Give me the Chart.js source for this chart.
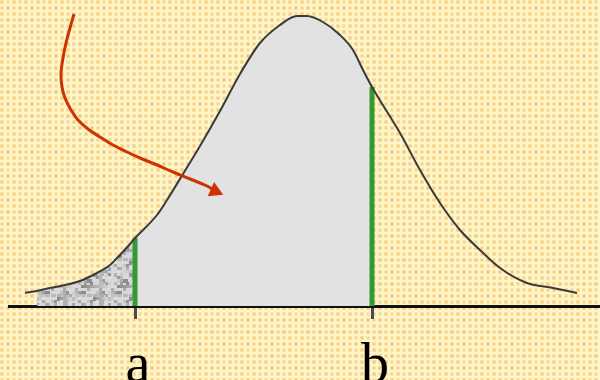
<!DOCTYPE html>
<html lang="en">
<head>
  <meta charset="UTF-8" />
  <title>Area between a and b</title>
  <script src="https://cdn.jsdelivr.net/npm/chart.js"></script>
  <style>
    html, body { margin: 0; padding: 0; background: #fcefc0; }
    #wrap { width: 600px; height: 380px; }
    canvas { display: block; }
  </style>
</head>
<body>
  <div id="wrap"><canvas id="curveChart" width="600" height="380"></canvas></div>

  <script>
    // curve of the distribution (x along the axis, height above the axis)
    const curveX = [25, 37, 50, 65, 80, 95, 110, 117, 130, 135, 140, 157, 167, 183, 200, 220, 240, 260, 280, 297, 307, 323, 340, 353, 363, 372, 400, 420, 440, 460, 480, 500, 527, 553, 577];
    const curveY = [13, 15, 18, 21, 25, 32, 41, 48, 62, 68, 73, 91, 106, 132, 160, 195, 232, 263, 281, 290, 290, 284, 271, 256, 236, 219, 173, 136, 103, 76, 56, 38, 23, 18, 13];

    // bounds a and b, and where the shaded left tail begins
    const tickValues = [135, 372];
    const tickLabels = ['a', 'b'];
    const tailStart = 37;

    // red arrow path (last point carries the arrow head)
    const arrowX = [74, 70, 66, 63, 61, 62, 65, 71, 78, 88, 100, 113, 127, 140, 157, 173, 190, 207, 215];
    const arrowY = [292, 278, 263, 248, 233, 219, 208, 196, 186, 177, 169, 161, 154, 148, 141, 134, 127, 120, 115];

    const curve = curveX.map((x, i) => ({ x, y: curveY[i] }));
    const between = (lo, hi) => curve.filter(p => p.x >= lo && p.x <= hi);
    const heightAt = x => curve.find(p => p.x === x).y;
    const [aX, bX] = tickValues;

    // yellow textured background tile
    const makeBgPattern = ctx => {
      const c = document.createElement('canvas');
      c.width = 12; c.height = 12;
      const g = c.getContext('2d');
      g.fillStyle = '#fdf5cc';
      g.fillRect(0, 0, 12, 12);
      const blob = (x, y, core, ring) => {
        g.fillStyle = ring; g.fillRect(x - 1, y - 1, 4, 4);
        g.fillStyle = core; g.fillRect(x, y, 2, 2);
      };
      blob(1, 1, '#f8c870', '#fbe0a2');
      blob(7, 1, '#f9d58c', '#fce6b0');
      blob(1, 7, '#f9d183', '#fce4ab');
      blob(7, 7, '#f7c467', '#fbdc98');
      return ctx.createPattern(c, 'repeat');
    };

    // mottled grey tile for the left tail
    const makeSpecklePattern = ctx => {
      const c = document.createElement('canvas');
      c.width = 36; c.height = 36;
      const g = c.getContext('2d');
      g.fillStyle = '#d9d9d9';
      g.fillRect(0, 0, 36, 36);
      for (let cy = 0; cy < 12; cy++) {
        for (let cx = 0; cx < 12; cx++) {
          const h = ((cx * 73 + cy * 151 + cx * cy * 37) % 97) / 97;
          if (h < 0.45) continue;
          const v = Math.round(225 - (h - 0.45) * 170);
          g.fillStyle = `rgb(${v},${v},${v})`;
          g.fillRect(cx * 3, cy * 3, 3 + (cx % 2) * 2, 3 + (cy % 2));
        }
      }
      return ctx.createPattern(c, 'repeat');
    };

    const ctx = document.getElementById('curveChart').getContext('2d');
    const bgPattern = makeBgPattern(ctx);
    const tailPattern = makeSpecklePattern(ctx);

    const backgroundPlugin = {
      id: 'texturedBg',
      beforeDraw(chart) {
        const c = chart.ctx;
        c.save();
        c.fillStyle = bgPattern;
        c.fillRect(0, 0, chart.width, chart.height);
        c.restore();
      }
    };

    const n = arrowX.length;

    new Chart(ctx, {
      type: 'line',
      data: {
        datasets: [
          {
            // arrow
            data: arrowX.map((x, i) => ({ x, y: arrowY[i] })),
            borderColor: '#cc3300',
            borderWidth: 3,
            tension: 0.4,
            pointRadius: arrowX.map((_, i) => i === n - 1 ? 9 : 0),
            pointStyle: 'triangle',
            pointRotation: 114,
            pointBackgroundColor: '#cc3300',
            pointBorderWidth: 0,
            fill: false
          },
          {
            // curve outline
            data: curve,
            borderColor: '#3a3a3a',
            borderWidth: 2,
            cubicInterpolationMode: 'monotone',
            pointRadius: 0,
            fill: false
          },
          {
            data: [{ x: aX, y: 0 }, { x: aX, y: heightAt(aX) }],
            borderColor: '#339933',
            borderWidth: 5,
            pointRadius: 0,
            fill: false
          },
          {
            data: [{ x: bX, y: 0 }, { x: bX, y: heightAt(bX) }],
            borderColor: '#339933',
            borderWidth: 5,
            pointRadius: 0,
            fill: false
          },
          {
            // area between a and b
            data: between(aX, bX),
            borderWidth: 0,
            borderColor: 'rgba(0,0,0,0)',
            backgroundColor: '#e2e2e2',
            cubicInterpolationMode: 'monotone',
            pointRadius: 0,
            fill: 'origin'
          },
          {
            // left tail
            data: between(tailStart, aX),
            borderWidth: 0,
            borderColor: 'rgba(0,0,0,0)',
            backgroundColor: tailPattern,
            cubicInterpolationMode: 'monotone',
            pointRadius: 0,
            fill: 'origin'
          }
        ]
      },
      options: {
        responsive: false,
        animation: false,
        events: [],
        layout: { autoPadding: false, padding: { left: 9, right: 0, top: 0, bottom: 0 } },
        plugins: { legend: { display: false }, tooltip: { enabled: false } },
        scales: {
          x: {
            type: 'linear',
            min: 9,
            max: 600,
            offset: false,
            afterBuildTicks: s => { s.ticks = tickValues.map(v => ({ value: v })); },
            afterFit: s => { s.height = 74; },
            grid: {
              display: true,
              drawOnChartArea: false,
              drawTicks: true,
              tickLength: 13,
              tickWidth: 3,
              tickColor: '#4a4a4a'
            },
            border: { display: true, color: '#111', width: 3 },
            ticks: {
              autoSkip: false,
              maxRotation: 0,
              padding: 15,
              labelOffset: 3,
              color: '#000',
              font: { family: '"Liberation Serif", "Times New Roman", serif', size: 56 },
              callback: (v, i) => tickLabels[i]
            }
          },
          y: {
            display: false,
            min: 0,
            max: 306
          }
        }
      },
      plugins: [backgroundPlugin]
    });
  </script>
</body>
</html>
